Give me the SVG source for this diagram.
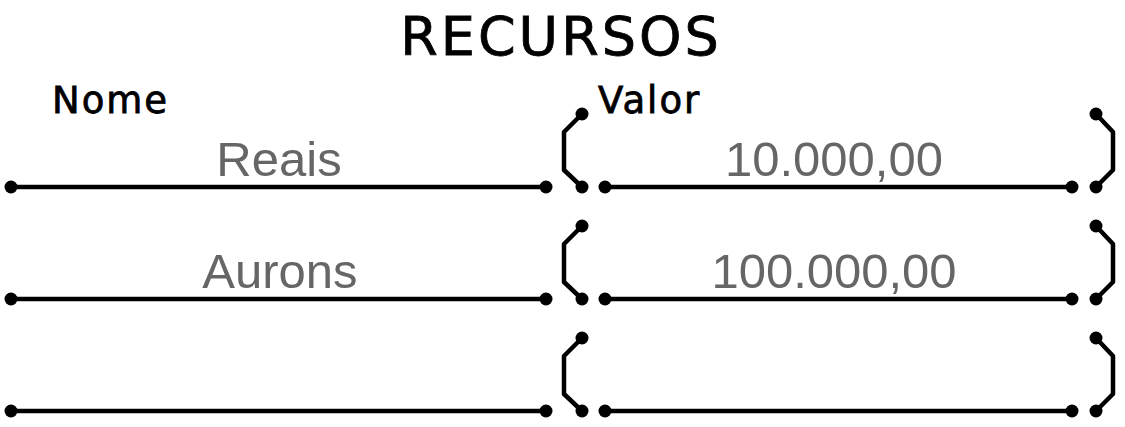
<svg xmlns="http://www.w3.org/2000/svg" width="1125" height="427" viewBox="0 0 1125 427">
<defs>
<style>
.l{stroke:#000;stroke-width:4.5;fill:none;stroke-linejoin:round}
.d{fill:#000}
.h{font-family:"DejaVu Sans",sans-serif;fill:#000;stroke:#000;stroke-width:0.8}
.v{font-family:"Liberation Sans",Arial,sans-serif;font-size:49px;fill:#666;text-anchor:middle}
</style>
<g id="row">
<path class="l" d="M11 0H546M605 0H1072M582 -73L564 -55V-17L582 0M1096 -73L1113 -55V-17L1096 0"/>
<g class="d"><circle cx="11" cy="0" r="6.5"/><circle cx="546" cy="0" r="6.5"/><circle cx="582" cy="0" r="6.5"/><circle cx="605" cy="0" r="6.5"/><circle cx="1072" cy="0" r="6.5"/><circle cx="1096" cy="0" r="6.5"/><circle cx="582" cy="-73" r="6.5"/><circle cx="1096" cy="-73" r="6.5"/></g>
</g>
</defs>
<rect width="1125" height="427" fill="#fff"/>
<text class="h" x="561" y="55" font-size="54" text-anchor="middle" letter-spacing="3">RECURSOS</text>
<text class="h" x="52" y="113" font-size="37" letter-spacing="2">Nome</text>
<text class="h" x="598" y="113" font-size="37" letter-spacing="2">Valor</text>
<g id="connectors">
<use href="#row" y="187"/>
<use href="#row" y="299"/>
<use href="#row" y="411"/>
</g>
<g id="r1"><text class="v" x="279" y="176">Reais</text><text class="v" x="834" y="176">10.000,00</text></g>
<g id="r2"><text class="v" x="280" y="288">Aurons</text><text class="v" x="834" y="288">100.000,00</text></g>
</svg>
